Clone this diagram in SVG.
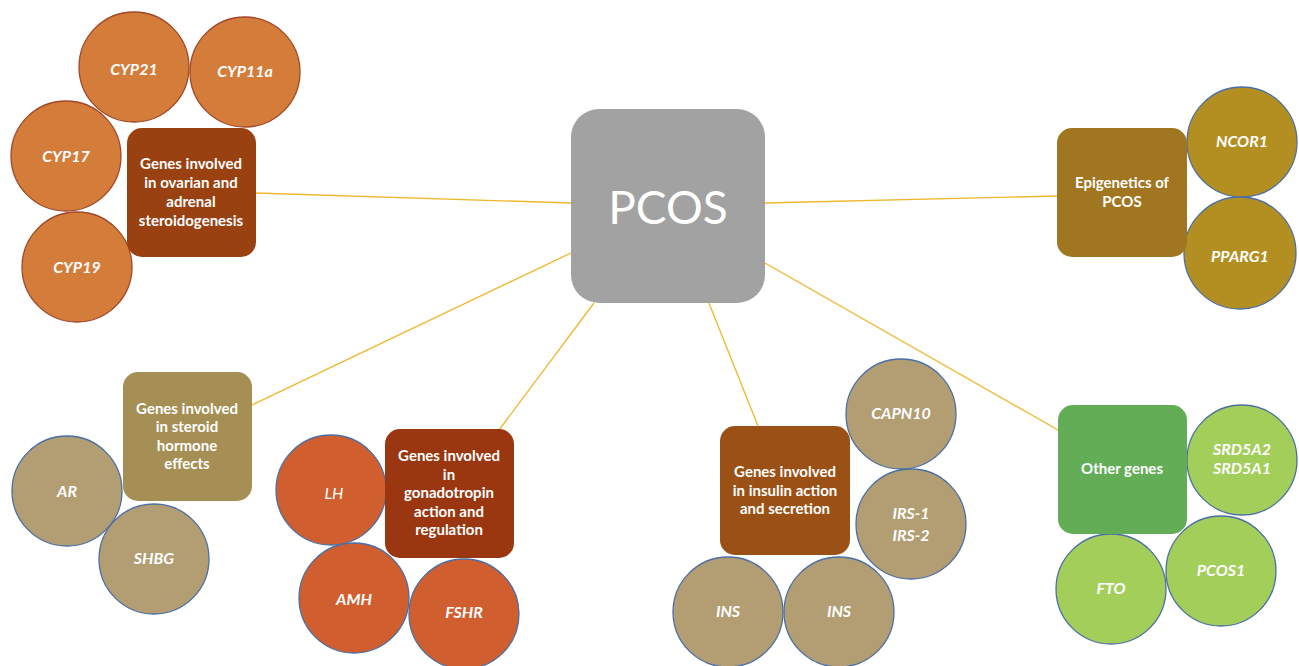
<svg xmlns="http://www.w3.org/2000/svg" width="1299" height="666" viewBox="0 0 1299 666">
<style>
.bx text{font-family:Lato,"Liberation Sans",sans-serif;font-weight:bold;font-size:15px;fill:#fff;text-anchor:middle}
.c text{font-family:Lato,"Liberation Sans",sans-serif;font-weight:bold;font-style:italic;font-size:16px;fill:#fff;text-anchor:middle}
.c text.l{font-weight:normal}
.cn line{stroke:#F0B62C;stroke-width:1.3}
.blue{stroke:#4A6FA5;stroke-width:1.3}
.rust{stroke:#A0472A;stroke-width:1.3}
</style>
<rect width="1299" height="666" fill="#fff"/>
<g id="connectors" class="cn">
<line x1="256" y1="193" x2="571" y2="203"/>
<line x1="765" y1="203" x2="1057" y2="196"/>
<line x1="252" y1="405" x2="571" y2="253"/>
<line x1="499" y1="430" x2="594" y2="303"/>
<line x1="709" y1="303" x2="758" y2="426"/>
<line x1="765" y1="263" x2="1058" y2="430"/>
</g>
<g id="pcos" class="bx">
<rect x="571" y="109" width="194" height="194" rx="28" fill="#A2A2A2"/>
<text x="668" y="224" style="font-weight:normal;font-size:46px">PCOS</text>
</g>
<g id="steroidogenesis">
<g class="c">
<circle cx="134" cy="67" r="55" fill="#D47C3A" class="rust"/><text x="134" y="75">CYP21</text>
<circle cx="245" cy="72" r="55" fill="#D47C3A" class="rust"/><text x="245" y="77">CYP11a</text>
<circle cx="66" cy="156" r="55" fill="#D47C3A" class="rust"/><text x="66" y="162">CYP17</text>
<circle cx="77" cy="267" r="55" fill="#D47C3A" class="rust"/><text x="77" y="273">CYP19</text>
</g>
<g class="bx">
<rect x="127" y="128" width="129" height="129" rx="15" fill="#9A4111"/>
<text x="191" y="169">Genes involved</text><text x="191" y="188">in ovarian and</text><text x="191" y="207">adrenal</text><text x="191" y="226">steroidogenesis</text>
</g>
</g>
<g id="epigenetics">
<g class="c">
<circle cx="1242" cy="142" r="55" fill="#B38F22" class="blue"/><text x="1242" y="147">NCOR1</text>
<circle cx="1240" cy="253" r="56" fill="#B38F22" class="blue"/><text x="1240" y="262">PPARG1</text>
</g>
<g class="bx">
<rect x="1057" y="128" width="130" height="129" rx="15" fill="#A07620"/>
<text x="1122" y="188">Epigenetics of</text><text x="1122" y="207">PCOS</text>
</g>
</g>
<g id="steroid-hormone">
<g class="c">
<circle cx="67" cy="491" r="55" fill="#B39D72" class="blue"/><text x="67" y="497">AR</text>
<circle cx="154" cy="559" r="55" fill="#B39D72" class="blue"/><text x="154" y="564">SHBG</text>
</g>
<g class="bx">
<rect x="123" y="372" width="129" height="129" rx="15" fill="#A68F55"/>
<text x="187" y="414">Genes involved</text><text x="187" y="432">in steroid</text><text x="187" y="451">hormone</text><text x="187" y="469">effects</text>
</g>
</g>
<g id="gonadotropin">
<g class="c">
<circle cx="331" cy="490" r="55" fill="#D05E2E" class="blue"/><text x="334" y="499" class="l">LH</text>
<circle cx="354" cy="598" r="55" fill="#D05E2E" class="blue"/><text x="354" y="605">AMH</text>
<circle cx="464" cy="614" r="55" fill="#D05E2E" class="blue"/><text x="464" y="618">FSHR</text>
</g>
<g class="bx">
<rect x="385" y="429" width="129" height="129" rx="15" fill="#9A3710"/>
<text x="449" y="461">Genes involved</text><text x="449" y="480">in</text><text x="449" y="498">gonadotropin</text><text x="449" y="517">action and</text><text x="449" y="535">regulation</text>
</g>
</g>
<g id="insulin">
<g class="c">
<circle cx="901" cy="414" r="55" fill="#B39D72" class="blue"/><text x="901" y="419">CAPN10</text>
<circle cx="911" cy="524" r="55" fill="#B39D72" class="blue"/><text x="911" y="519">IRS-1</text><text x="911" y="541">IRS-2</text>
<circle cx="728" cy="612" r="55" fill="#B39D72" class="blue"/><text x="728" y="617">INS</text>
<circle cx="839" cy="612" r="55" fill="#B39D72" class="blue"/><text x="839" y="617">INS</text>
</g>
<g class="bx">
<rect x="720" y="426" width="130" height="129" rx="15" fill="#9B5115"/>
<text x="785" y="477">Genes involved</text><text x="785" y="496">in insulin action</text><text x="785" y="514">and secretion</text>
</g>
</g>
<g id="other">
<g class="c">
<circle cx="1242" cy="460" r="55" fill="#A3CE5A" class="blue"/><text x="1242" y="455">SRD5A2</text><text x="1242" y="474">SRD5A1</text>
<circle cx="1111" cy="589" r="55" fill="#A3CE5A" class="blue"/><text x="1111" y="594">FTO</text>
<circle cx="1221" cy="571" r="55" fill="#A3CE5A" class="blue"/><text x="1221" y="576">PCOS1</text>
</g>
<g class="bx">
<rect x="1058" y="405" width="129" height="129" rx="15" fill="#62AD56"/>
<text x="1122" y="474">Other genes</text>
</g>
</g>
</svg>
